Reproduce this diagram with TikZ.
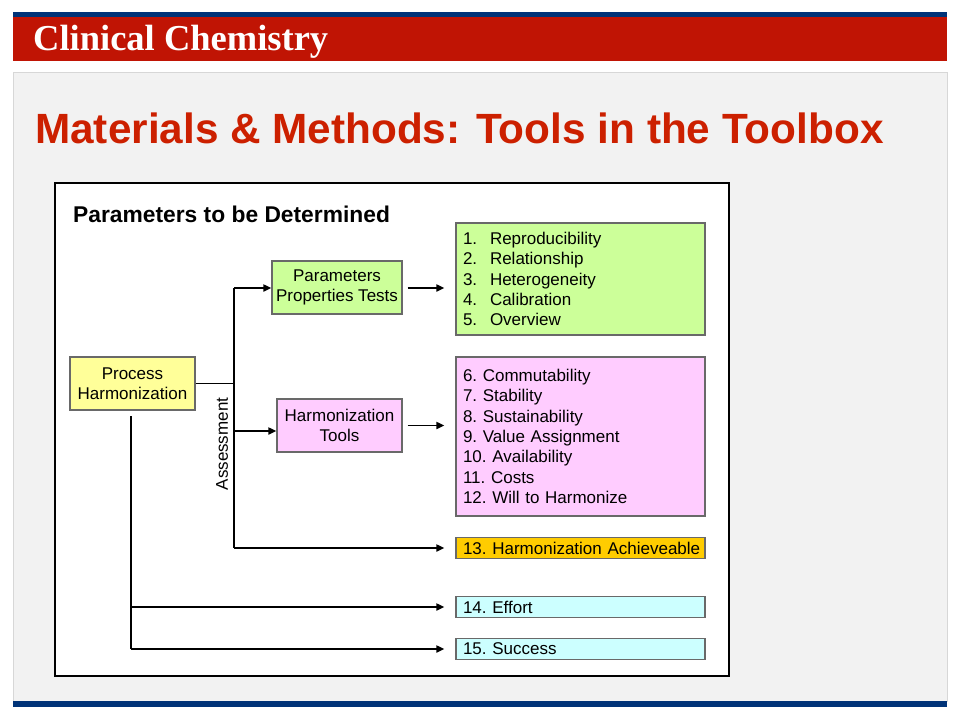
\documentclass[tikz,border=0pt]{standalone}
\usepackage{fontspec}
\setmainfont{Liberation Sans}
\newfontfamily\ttlserif{Liberation Serif}
\usetikzlibrary{arrows.meta}
\definecolor{navy}{RGB}{0,51,120}
\definecolor{bandred}{RGB}{192,20,4}
\definecolor{titlered}{RGB}{204,32,0}
\definecolor{panelgray}{RGB}{242,242,242}
\definecolor{panelline}{RGB}{215,215,215}
\definecolor{boxline}{RGB}{105,105,105}
\definecolor{lgreen}{RGB}{204,255,153}
\definecolor{lpink}{RGB}{255,204,255}
\definecolor{lyellow}{RGB}{255,255,153}
\definecolor{lorange}{RGB}{255,204,0}
\definecolor{lcyan}{RGB}{204,255,255}
\begin{document}
\begin{tikzpicture}[x=1pt,y=-1pt,
  box/.style={draw=boxline, line width=1.2pt, inner sep=0pt, align=center,
    font=\frenchspacing\fontsize{17}{20}\selectfont},
  listbox/.style={box, align=left, text width=235pt, inner xsep=7pt, inner ysep=0pt,
    font=\frenchspacing\fontsize{17}{20.3}\selectfont},
  conn/.style={line width=1.8pt, black},
  arr/.style={conn, -{Triangle[length=8pt,width=7pt]}}
]
\useasboundingbox (0,0) rectangle (960,720);
\fill[white] (0,0) rectangle (960,720);
% header
\fill[navy] (13,12) rectangle (947,17);
\fill[bandred] (13,17) rectangle (947,61);
\node[anchor=base west, inner sep=0pt, text=white, font=\ttlserif\bfseries\fontsize{36.5}{40}\selectfont] (hdr) at (33,50) {Clinical Chemistry};
% panel
\filldraw[fill=panelgray, draw=panelline, line width=1pt] (13,72) rectangle (947,701);
\fill[navy] (13,701) rectangle (947,707);
\node[anchor=base west, inner sep=0pt, text=titlered, font=\bfseries\fontsize{42.3}{46}\selectfont] (title) at (35,143) {Materials \& Methods: Tools in the Toolbox};
% white frame
\draw[fill=white, draw=black, line width=2pt] (55,183) rectangle (729,676);
\node[anchor=base west, inner sep=0pt, font=\bfseries\fontsize{22.8}{25}\selectfont] (ptbd) at (73,222) {Parameters to be Determined};
% boxes
\node[box, fill=lyellow, minimum width=125pt, minimum height=53pt] (ph) at (132.5,383.5) {Process\\Harmonization};
\node[box, fill=lgreen, minimum width=130pt, minimum height=53pt] (ppt) at (337,287.5) {Parameters\\Properties Tests};
\node[box, fill=lpink, minimum width=125pt, minimum height=53pt] (hto) at (339.5,425.5) {Harmonization\\Tools};
\node[listbox, fill=lgreen, minimum height=112pt] (l1) at (580.5,279) {%
\makebox[27pt][l]{1.}Reproducibility\\
\makebox[27pt][l]{2.}Relationship\\
\makebox[27pt][l]{3.}Heterogeneity\\
\makebox[27pt][l]{4.}Calibration\\
\makebox[27pt][l]{5.}Overview};
\node[listbox, fill=lpink, minimum height=159pt] (l2) at (580.5,436.5) {%
6. Commutability\\
7. Stability\\
8. Sustainability\\
9. Value Assignment\\
10. Availability\\
11. Costs\\
12. Will to Harmonize};
\node[listbox, fill=lorange, minimum height=21pt] (l13) at (580.5,548) {\mbox{13. Harmonization Achieveable}};
\node[listbox, fill=lcyan, minimum height=21pt] (l14) at (580.5,607) {14. Effort};
\node[listbox, fill=lcyan, minimum height=21pt] (l15) at (580.5,649) {15. Success};
% connectors
\coordinate (j1) at (234,288);
\coordinate (j2) at (234,431);
\coordinate (j3) at (234,548);
\coordinate (v0) at (131,416);
\coordinate (v1) at (131,607);
\coordinate (v2) at (131,649);
\draw[conn] (ph.east) -- (ph.east -| j1);
\draw[conn] (j1) -- (j3);
\draw[arr] (j1) -- (j1 -| ppt.west);
\draw[arr] (j2) -- (j2 -| hto.west);
\draw[arr, shorten >=11pt] (j3) -- (j3 -| l13.west);
\draw[arr, shorten <=5pt, shorten >=11pt] (ppt.east |- j1) -- (j1 -| l1.west);
\draw[arr, shorten <=5pt, shorten >=11pt] (hto.east) -- (hto.east -| l2.west);
\draw[conn] (v0) -- (v2);
\draw[arr, shorten >=11pt] (v1) -- (v1 -| l14.west);
\draw[arr, shorten >=11pt] (v2) -- (v2 -| l15.west);
\node[rotate=90, inner sep=0pt, font=\fontsize{17}{20}\selectfont] (assess) at (222,444) {Assessment};
\end{tikzpicture}
\end{document}
